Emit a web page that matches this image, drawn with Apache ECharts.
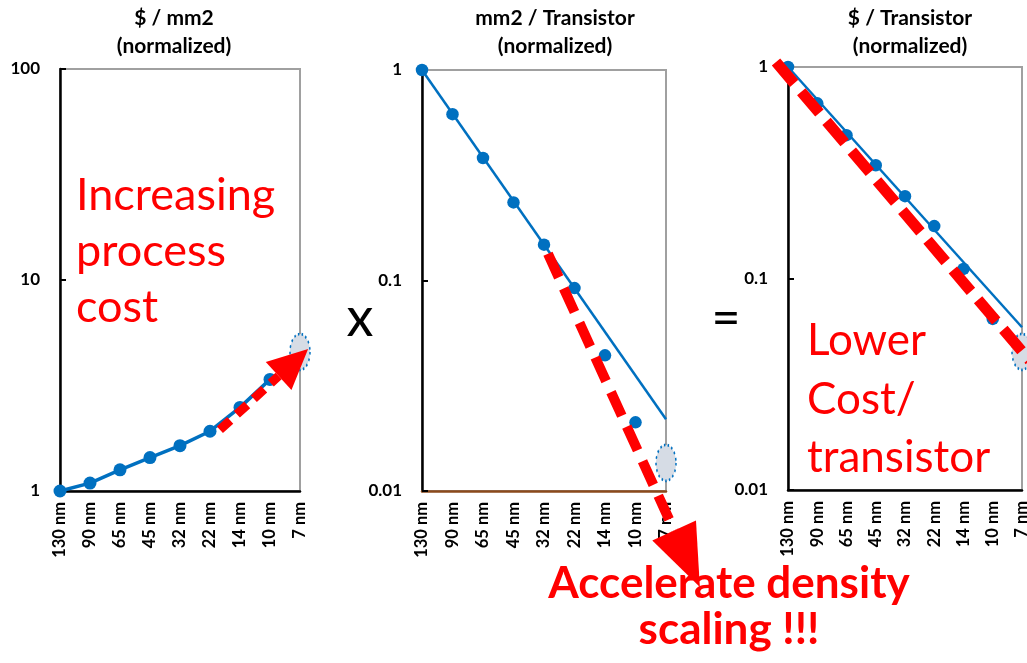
<!DOCTYPE html>
<html>
<head>
<meta charset="utf-8">
<script src="https://cdn.jsdelivr.net/npm/echarts@6/dist/echarts.min.js"></script>
<style>
html,body{margin:0;padding:0;background:#fff;}
#main{width:1027px;height:663px;}
</style>
</head>
<body>
<div id="main"></div>
<script>
// ---- data ----
const categories = ['130 nm', '90 nm', '65 nm', '45 nm', '32 nm', '22 nm', '14 nm', '10 nm', '7 nm'];
const costPerArea = [1, 1.09, 1.26, 1.44, 1.64, 1.92, 2.49, 3.38, null];
const areaPerTransistor = [1, 0.617, 0.382, 0.235, 0.148, 0.092, 0.0441, 0.0212, null];
const costPerTransistor = [1, 0.673, 0.476, 0.343, 0.245, 0.177, 0.111, 0.0644, null];
// projected 7 nm values (dotted ellipses)
const projected7nm = [4.56, 0.0136, 0.045];
// trend lines: value at 130 nm and at 7 nm
const areaTrend = [1, 0.0219];
const costTrend = [1, 0.0588];
// y-axis ranges (log)
const yRanges = [[1, 100], [0.01, 1], [0.01, 1]];
const panelTitles = [['$ / mm2', '(normalized)'], ['mm2 / Transistor', '(normalized)'], ['$ / Transistor', '(normalized)']];
// annotation arrows: [x1, y1, x2, y2] in (category position, value)
const arrowProcess = [5.33, 1.95, 8.27, 4.71];
const arrowDensity = [4.13, 0.134, 9.11, 0.0035];
const dashCost = [-0.41, 1.056, 8.27, 0.0409];

// ---- layout ----
const grids = [
  {left: 60, top: 69, width: 240, height: 422},
  {left: 422, top: 70, width: 244, height: 421},
  {left: 788, top: 67, width: 234, height: 423}
];
const titleCenters = [174, 555, 910];
const bottomColors = ['#000000', '#8B4A1C', '#000000'];
const BLUE = '#0070C0';
const RED = '#FF0000';

const chart = echarts.init(document.getElementById('main'), null, {renderer: 'canvas'});

const gridOpt = grids.map(g => Object.assign({
  show: true, borderColor: '#A0A0A0', borderWidth: 2, backgroundColor: 'transparent',
  containLabel: false, outerBoundsMode: 'none'
}, g));

const xAxes = [];
grids.forEach((g, i) => {
  xAxes.push({
    type: 'category', gridIndex: i, data: categories, boundaryGap: false,
    axisLine: {show: true, lineStyle: {color: bottomColors[i], width: 2.5}},
    axisTick: {show: false},
    splitLine: {show: false},
    axisLabel: {rotate: 90, margin: 11, color: '#000', fontFamily: 'Lato', fontWeight: 'bold', fontSize: 16.5, interval: 0}
  });
});
grids.forEach((g, i) => {
  xAxes.push({type: 'value', gridIndex: i, min: 0, max: 8, show: false});
});

const yAxes = grids.map((g, i) => ({
  type: 'log', logBase: 10, gridIndex: i, min: yRanges[i][0], max: yRanges[i][1],
  axisLine: {show: true, lineStyle: {color: '#000', width: 2.5}},
  axisTick: {show: true, inside: true, length: 6, lineStyle: {color: '#000', width: 2}},
  splitLine: {show: false},
  minorTick: {show: false},
  axisLabel: {margin: 20, color: '#000', fontFamily: 'Lato', fontWeight: 'bold', fontSize: 17,
    formatter: v => String(+v.toPrecision(6))}
}));

function nn(arr) { return arr.map(v => v == null ? '-' : v); }
function trendData(t) { return categories.map((c, k) => k === 0 ? t[0] : (k === categories.length - 1 ? t[1] : '-')); }
function projData(v) { return categories.map((c, k) => k === categories.length - 1 ? v : '-'); }

function arrowRender(opts) {
  return function (params, api) {
    const p1 = api.coord([api.value(0), api.value(1)]);
    const p2 = api.coord([api.value(2), api.value(3)]);
    const dx = p2[0] - p1[0], dy = p2[1] - p1[1];
    const len = Math.sqrt(dx * dx + dy * dy);
    const ux = dx / len, uy = dy / len;
    const nx = -uy, ny = ux;
    const hl = opts.headLen || 0;
    const bx = p2[0] - ux * hl, by = p2[1] - uy * hl;
    const children = [{
      type: 'line',
      shape: {x1: p1[0], y1: p1[1], x2: bx, y2: by},
      style: {stroke: RED, lineWidth: opts.width, lineDash: opts.dash, lineCap: 'butt', fill: null}
    }];
    if (hl > 0) {
      const hw = opts.headW;
      children.push({
        type: 'polygon',
        shape: {points: [[p2[0], p2[1]], [bx + nx * hw, by + ny * hw], [bx - nx * hw, by - ny * hw]]},
        style: {fill: RED}
      });
    }
    return {type: 'group', children: children};
  };
}

const series = [];
// panel 1
series.push({
  type: 'line', xAxisIndex: 0, yAxisIndex: 0, data: nn(costPerArea), clip: false,
  symbol: 'circle', symbolSize: 13, showSymbol: true,
  lineStyle: {color: BLUE, width: 3.5}, itemStyle: {color: BLUE}, z: 3
});
// panel 2
series.push({
  type: 'line', xAxisIndex: 1, yAxisIndex: 1, data: trendData(areaTrend), connectNulls: true, clip: false,
  symbol: 'none', lineStyle: {color: BLUE, width: 2.5}, z: 2
});
series.push({
  type: 'scatter', xAxisIndex: 1, yAxisIndex: 1, data: nn(areaPerTransistor), clip: false,
  symbol: 'circle', symbolSize: 12.5, itemStyle: {color: BLUE, opacity: 1}, z: 3
});
// panel 3
series.push({
  type: 'line', xAxisIndex: 2, yAxisIndex: 2, data: trendData(costTrend), connectNulls: true, clip: false,
  symbol: 'none', lineStyle: {color: BLUE, width: 2.5}, z: 2
});
series.push({
  type: 'scatter', xAxisIndex: 2, yAxisIndex: 2, data: nn(costPerTransistor), clip: false,
  symbol: 'circle', symbolSize: 12.5, itemStyle: {color: BLUE, opacity: 1}, z: 3
});
// projected ellipses
projected7nm.forEach((v, i) => {
  series.push({
    type: 'scatter', xAxisIndex: i, yAxisIndex: i, data: projData(v), clip: false,
    symbol: 'circle', symbolSize: [20, 36],
    itemStyle: {color: '#D6DCE5', borderColor: BLUE, borderWidth: 2, borderType: [2, 3], opacity: 1}, z: 4
  });
});
// arrows / annotations
series.push({
  type: 'custom', xAxisIndex: 3, yAxisIndex: 0, clip: false, z: 10, silent: true,
  renderItem: arrowRender({width: 9, dash: [14, 9], headLen: 40, headW: 19}),
  data: [arrowProcess]
});
series.push({
  type: 'custom', xAxisIndex: 4, yAxisIndex: 1, clip: false, z: 10, silent: true,
  renderItem: arrowRender({width: 10, dash: [26, 12], headLen: 62, headW: 24}),
  data: [arrowDensity]
});
series.push({
  type: 'custom', xAxisIndex: 5, yAxisIndex: 2, clip: false, z: 10, silent: true,
  renderItem: arrowRender({width: 11, dash: [28, 11], headLen: 0}),
  data: [dashCost]
});

// text elements
const graphics = [];
panelTitles.forEach((t, i) => {
  graphics.push({type: 'text', x: titleCenters[i], y: 18, style: {text: t[0], fill: '#000', font: 'bold 21px Lato', align: 'center', verticalAlign: 'middle'}});
  graphics.push({type: 'text', x: titleCenters[i], y: 46, style: {text: t[1], fill: '#000', font: 'bold 21px Lato', align: 'center', verticalAlign: 'middle'}});
});
const redLeft = ['Increasing', 'process', 'cost'];
const redLeftY = [195, 251, 307];
redLeft.forEach((s, k) => graphics.push({type: 'text', x: 76, y: redLeftY[k], z: 20,
  style: {text: s, fill: RED, font: '45px Lato', align: 'left', verticalAlign: 'middle'}}));
const redRight = ['Lower', 'Cost/', 'transistor'];
const redRightY = [341, 400, 458];
redRight.forEach((s, k) => graphics.push({type: 'text', x: 807, y: redRightY[k], z: 20,
  style: {text: s, fill: RED, font: '44px Lato', align: 'left', verticalAlign: 'middle'}}));
const redBottom = ['Accelerate density', 'scaling !!!'];
const redBottomY = [584, 630];
redBottom.forEach((s, k) => graphics.push({type: 'text', x: 729, y: redBottomY[k], z: 20,
  style: {text: s, fill: RED, font: 'bold 44px Lato', align: 'center', verticalAlign: 'middle'}}));
graphics.push({type: 'text', x: 360, y: 319, style: {text: 'x', fill: '#000', font: '54px Lato', align: 'center', verticalAlign: 'middle'}});
graphics.push({type: 'text', x: 726, y: 319, style: {text: '=', fill: '#000', font: '50px Lato', align: 'center', verticalAlign: 'middle'}});

chart.setOption({
  animation: false,
  backgroundColor: '#ffffff',
  grid: gridOpt,
  xAxis: xAxes,
  yAxis: yAxes,
  series: series,
  graphic: graphics
});
</script>
</body>
</html>
